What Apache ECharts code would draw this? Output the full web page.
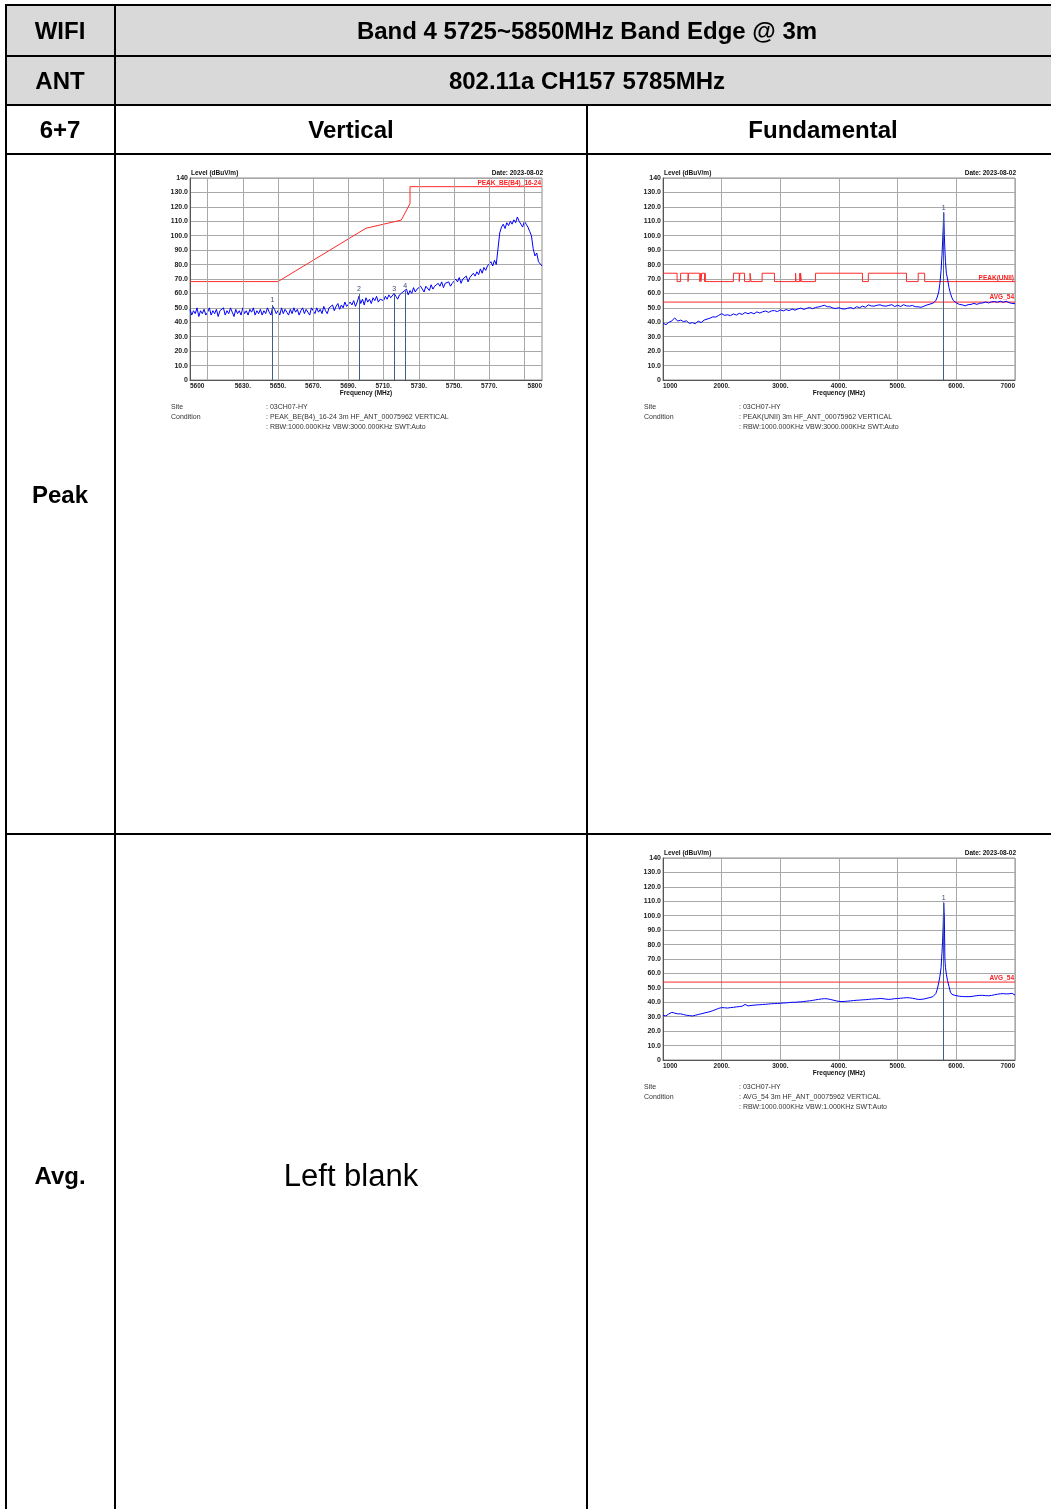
<!DOCTYPE html>
<html>
<head>
<meta charset="utf-8">
<script src="https://cdn.jsdelivr.net/npm/echarts@6.0.0/dist/echarts.min.js"></script>
<style>
html,body{margin:0;padding:0;background:#ffffff;}
#chart{width:1051px;height:1509px;}
</style>
</head>
<body>
<div id="chart"></div>
<script>
// ---------- Band edge chart (Peak, Vertical) ----------
const leFreq = [
5600,5601,5602,5603,5604,5605,5606,5607,5608,5609,
5610,5611,5612,5613,5614,5615,5616,5617,5618,5619,
5620,5621,5622,5623,5624,5625,5626,5627,5628,5629,
5630,5631,5632,5633,5634,5635,5636,5637,5638,5639,
5640,5641,5642,5643,5644,5645,5646,5647,5648,5649,
5650,5651,5652,5653,5654,5655,5656,5657,5658,5659,
5660,5661,5662,5663,5664,5665,5666,5667,5668,5669,
5670,5671,5672,5673,5674,5675,5676,5677,5678,5679,
5680,5681,5682,5683,5684,5685,5686,5687,5688,5689,
5690,5691,5692,5693,5694,5695,5696,5697,5698,5699,
5700,5701,5702,5703,5704,5705,5706,5707,5708,5709,
5710,5711,5712,5713,5714,5715,5716,5717,5718,5719,
5720,5721,5722,5723,5724,5725,5726,5727,5728,5729,
5730,5731,5732,5733,5734,5735,5736,5737,5738,5739,
5740,5741,5742,5743,5744,5745,5746,5747,5748,5749,
5750,5751,5752,5753,5754,5755,5756,5757,5758,5759,
5760,5761,5762,5763,5764,5765,5766,5767,5768,5769,
5770,5771,5772,5773,5774,5775,5776,5777,5778,5779,
5780,5781,5782,5783,5784,5785,5786,5787,5788,5789,
5790,5791,5792,5793,5794,5795,5796,5797,5798,5799,
5800];
const leLevel = [
49,45,48,46,50,44,48,46,49,45,
47,50,45,48,46,49,44,48,47,50,
45,48,46,50,47,44,49,46,48,45,
50,46,48,45,49,47,50,45,48,46,
49,45,48,46,50,47,45,51,49,46,
48,45,50,46,49,47,45,49,46,50,
47,49,45,48,50,46,49,47,45,50,
48,46,50,47,49,46,51,48,46,50,
49,52,48,51,53,49,52,50,54,51,
51,54,52,55,51,54,58,53,56,52,
57,54,56,53,57,55,58,54,56,57,
55,58,56,59,57,56,60,58,56,59,
59,61,62,63,59,62,60,64,61,63,
62,65,63,61,65,64,62,66,63,65,
64,67,65,68,64,67,66,68,65,67,
67,70,68,71,67,70,69,72,68,71,
71,74,72,75,73,77,74,78,76,79,
78,82,79,83,80,81,102,106,108,105,
109,107,110,108,111,109,113,110,108,106,
110,108,106,103,100,91,86,88,82,83,
79];
const leLimitFreq  = [5600, 5650, 5700, 5720, 5725, 5725, 5800];
const leLimitLevel = [68.2, 68.2, 105.2, 110.8, 122.2, 134, 134];
const leMarkerFreq  = [5646.8, 5696, 5716, 5722.3];
const leMarkerLevel = [52, 59.6, 60, 62];
const leTickLabels = [5600, 5630, 5650, 5670, 5690, 5710, 5730, 5750, 5770, 5800];
const leGridFreq   = [5610, 5630, 5650, 5670, 5690, 5710, 5730, 5750, 5770, 5790];

// ---------- Fundamental charts (Peak / Avg) ----------
const fundFreq = [
1000,1050,1100,1150,1200,1250,1300,1350,1400,1450,
1500,1550,1600,1650,1700,1750,1800,1850,1900,1950,
2000,2050,2100,2150,2200,2250,2300,2350,2400,2450,
2500,2550,2600,2650,2700,2750,2800,2850,2900,2950,
3000,3050,3100,3150,3200,3250,3300,3350,3400,3450,
3500,3550,3600,3650,3700,3750,3800,3850,3900,3950,
4000,4050,4100,4150,4200,4250,4300,4350,4400,4450,
4500,4550,4600,4650,4700,4750,4800,4850,4900,4950,
5000,5050,5100,5150,5200,5250,5300,5350,5400,5450,
5500,5550,5600,
5625,5650,5675,5700,5720,5740,5755,5765,5775,5785,5795,5805,5815,5830,5850,5875,5900,5925,5950,5975,6000,
6050,6100,6150,6200,6250,6300,6350,6400,6450,6500,
6550,6600,6650,6700,6750,6800,6850,6900,6950,7000];
const fundPeak = [
39.5,38.3,40,41,43,40.8,41.5,40.5,41,39.2,
39.8,39,40.8,39.8,41.5,42.2,42.8,43.8,43.6,44.8,
46,44.8,45.2,44.6,45.8,45,46.2,45.4,46.8,45.9,
46.8,45.9,47.2,46.4,47.3,47.8,46.9,47.9,48.1,47.4,
48.6,47.9,48.8,48.1,49.2,48.4,49.3,49.8,48.9,49.7,
50.2,49.4,50.3,50.6,51.2,51.8,50.8,50.7,49.8,49.6,
50.1,49.3,49.2,49.8,50.2,49.4,50.8,50.1,51.2,50.4,
52.1,51.3,51.2,51.8,52.1,51.4,51.2,51.7,52.2,50.9,
51.8,50.9,52.2,51.4,51.2,51.7,50.8,50.7,50.4,51.2,
52,52.6,53.2,
54,55,57.5,61,67,76,86,95,104,116,101,90,82,74,70,64,60,57,55,54.5,53.5,
52.4,52.1,51.4,52.2,52.4,53.1,52.4,53.2,53.4,54.1,
53.4,54.2,54.4,53.9,54.6,53.9,54.6,53.6,53.1,52.9];
const fundAvg = [
31,30.5,32,33,32.5,32,32,31.5,31,30.8,
30.5,31,31.5,32,32.5,33,33.5,34.2,35,35.8,
36.3,36.2,36,36.3,36.5,36.8,37,37.3,38.5,37.5,
37.8,38,38.2,38.3,38.5,38.6,38.8,39,39.1,39.2,
39.3,39.5,39.6,39.8,40,40,40.2,40.3,40.5,40.8,
41,41.3,41.7,42,42.3,42.5,42.4,42,41.5,41,
40.6,40.5,40.6,40.8,41,41.2,41.4,41.5,41.7,41.8,
42,42.2,42.3,42.4,42.6,42.5,42.2,42,42.2,42.5,
42.6,42.8,43,43.2,43.1,42.8,42.4,42,42,42.3,
42.8,43.3,43.9,
44.5,46,49,53.5,58,64,74,82,92,109,100,70,64,59.5,55,51,47,45.5,45,44.8,44.5,
44.2,44,43.9,43.9,44,44.3,44.6,44.8,44.8,44.6,
44.5,44.8,45.2,45.6,45.9,46,45.8,45.9,46.2,45];
// PEAK(UNII) limit: value holds from each breakpoint to the next
const uniiFreq = [1000,1240,1300,1427,1435,1626.5,1645.5,1646.5,1660,1710,1718.8,1722.2,
  2200,2300,2310,2390,2483.5,2500,2690,2900,3260,3267,3332,3339,3345.8,3358,
  3600,4400,4500,5150,5350,5460,7000];
const uniiLevel = [74,68.2,74,68.2,74,68.2,74,68.2,74,68.2,74,68.2,
  74,68.2,74,68.2,74,68.2,74,68.2,74,68.2,74,68.2,74,68.2,
  74,68.2,74,68.2,74,68.2,68.2];
const avgLimitFreq  = [1000, 7000];
const avgLimitLevel = [54, 54];
const fundPkMarkerFreq = [5785], fundPkMarkerLevel = [116];
const fundAvMarkerFreq = [5785], fundAvMarkerLevel = [109];

// ---------- styling ----------
const SANS = '"Liberation Sans", Arial, sans-serif';
const GRIDC = '#a9a9a9';
const TRACE = '#0000ff';
const LIMIT = '#ff2a2a';
const MARK = '#3f5f86';

const pairs = (xs, ys) => xs.map((x, i) => [x, ys[i]]);

const grids = [
  {left:190, top:178, width:352, height:202},
  {left:663, top:178, width:352, height:202},
  {left:663, top:858, width:352, height:202}
].map(g => Object.assign(g, {show:true, borderColor:'#8c8c8c', borderWidth:1, backgroundColor:'#ffffff', containLabel:false, outerBoundsMode:'none'}));

function yAxis(i){
  return {type:'value', gridIndex:i, min:0, max:140, interval:10,
    axisLine:{show:true, lineStyle:{color:'#555555', width:1}},
    axisTick:{show:false},
    splitLine:{show:true, lineStyle:{color:GRIDC, width:1}},
    axisLabel:{margin:2, fontSize:7, fontWeight:'bold', fontFamily:SANS, color:'#222222',
      formatter: v => (v === 0 || v === 140) ? String(v) : v.toFixed(1)}};
}
function labelStyle(){
  return {margin:3, fontSize:6.5, fontWeight:'bold', fontFamily:SANS, color:'#222222',
    showMinLabel:true, showMaxLabel:true, alignMinLabel:'left', alignMaxLabel:'right'};
}
const xAxes = [
  {type:'value', gridIndex:0, min:5600, max:5800,
   axisLine:{show:true, lineStyle:{color:'#555555'}}, axisTick:{show:false}, splitLine:{show:false},
   axisLabel:Object.assign(labelStyle(), {customValues:leTickLabels,
     formatter: v => (v === 5600 || v === 5800) ? String(v) : v + '.'})},
  {type:'value', gridIndex:1, min:1000, max:7000, interval:1000,
   axisLine:{show:true, lineStyle:{color:'#555555'}}, axisTick:{show:false},
   splitLine:{show:true, lineStyle:{color:GRIDC, width:1}},
   axisLabel:Object.assign(labelStyle(), {formatter: v => (v === 1000 || v === 7000) ? String(v) : v + '.'})},
  {type:'value', gridIndex:2, min:1000, max:7000, interval:1000,
   axisLine:{show:true, lineStyle:{color:'#555555'}}, axisTick:{show:false},
   splitLine:{show:true, lineStyle:{color:GRIDC, width:1}},
   axisLabel:Object.assign(labelStyle(), {formatter: v => (v === 1000 || v === 7000) ? String(v) : v + '.'})}
];

function lineSeries(ax, data, color, extra){
  return Object.assign({type:'line', xAxisIndex:ax, yAxisIndex:ax, data:data, symbol:'none', showSymbol:false,
    lineStyle:{color:color, width:1}, itemStyle:{color:color}, silent:true, z:3}, extra || {});
}
function markerSeries(ax, fs, vs){
  return {type:'line', xAxisIndex:ax, yAxisIndex:ax, data:[], symbol:'none', silent:true, z:4,
    markLine:{silent:true, symbol:['none','none'], animation:false,
      lineStyle:{color:MARK, width:1, type:'solid'},
      label:{show:true, position:'start', formatter:'{b}', fontSize:7, fontFamily:SANS, color:'#3a4a78', distance:1},
      data: fs.map((f, i) => [{name:String(i + 1), coord:[f, vs[i]]}, {coord:[f, 0]}])}};
}

const series = [
  // vertical grid lines of the band-edge chart
  {type:'line', xAxisIndex:0, yAxisIndex:0, data:[], symbol:'none', silent:true, z:1,
   markLine:{silent:true, symbol:['none','none'], animation:false, label:{show:false},
     lineStyle:{color:GRIDC, width:1, type:'solid'},
     data: leGridFreq.map(f => ({xAxis:f}))}},
  lineSeries(0, pairs(leLimitFreq, leLimitLevel), LIMIT),
  lineSeries(0, pairs(leFreq, leLevel), TRACE),
  markerSeries(0, leMarkerFreq, leMarkerLevel),

  lineSeries(1, pairs(uniiFreq, uniiLevel), LIMIT, {step:'end'}),
  lineSeries(1, pairs(avgLimitFreq, avgLimitLevel), LIMIT),
  lineSeries(1, pairs(fundFreq, fundPeak), TRACE),
  markerSeries(1, fundPkMarkerFreq, fundPkMarkerLevel),

  lineSeries(2, pairs(avgLimitFreq, avgLimitLevel), LIMIT),
  lineSeries(2, pairs(fundFreq, fundAvg), TRACE),
  markerSeries(2, fundAvMarkerFreq, fundAvMarkerLevel)
];

// ---------- table and texts ----------
const G = [];
function txt(x, y, s, font, fill, align){
  G.push({type:'text', x:x, y:y, silent:true, z:100,
    style:{text:s, font:font, fill:fill || '#000000', textAlign:align || 'center', textVerticalAlign:'middle'}});
}
function ln(x1, y1, x2, y2, w){
  G.push({type:'line', silent:true, z:100, shape:{x1:x1, y1:y1, x2:x2, y2:y2}, style:{stroke:'#000000', lineWidth:w || 2}});
}
G.push({type:'rect', silent:true, z:0, shape:{x:6, y:6, width:1045, height:99}, style:{fill:'#d9d9d9'}});
ln(5, 5, 1051, 5); ln(5, 56, 1051, 56); ln(5, 105, 1051, 105); ln(5, 154, 1051, 154); ln(5, 834, 1051, 834);
ln(6, 5, 6, 1509); ln(115, 5, 115, 1509); ln(587, 105, 587, 1509);

const HB = 'bold 24px ' + SANS;
txt(60, 32.5, 'WIFI', HB);
txt(587, 32.5, 'Band 4 5725~5850MHz Band Edge @ 3m', HB);
txt(60, 82, 'ANT', HB);
txt(587, 82, '802.11a CH157 5785MHz', HB);
txt(60, 131, '6+7', HB);
txt(351, 131, 'Vertical', HB);
txt(823, 131, 'Fundamental', HB);
txt(60, 496, 'Peak', HB);
txt(60, 1177.5, 'Avg.', HB);
txt(351, 1177.5, 'Left blank', '31px ' + SANS);

const SB = 'bold 6.5px ' + SANS;
const SR = '7px ' + SANS;
function chartTexts(g, cond, rbw, limitLabels){
  const L = g.left, T = g.top, R = g.left + g.width, B = g.top + g.height;
  txt(L + 1, T - 4.5, 'Level (dBuV/m)', SB, '#111111', 'left');
  txt(R + 1, T - 5, 'Date: 2023-08-02', SB, '#111111', 'right');
  txt((L + R) / 2, B + 13, 'Frequency (MHz)', SB, '#111111', 'center');
  const sx = L - 19, vx = L + 76;
  txt(sx, B + 27.5, 'Site', SR, '#333333', 'left');
  txt(sx, B + 37.5, 'Condition', SR, '#333333', 'left');
  txt(vx, B + 27.5, ': 03CH07-HY', SR, '#333333', 'left');
  txt(vx, B + 37.5, cond, SR, '#333333', 'left');
  txt(vx, B + 47.5, rbw, SR, '#333333', 'left');
  limitLabels.forEach(l => txt(R - 1, T + l[1], l[0], SB, '#ff2020', 'right'));
}
chartTexts(grids[0], ': PEAK_BE(B4)_16-24 3m HF_ANT_00075962 VERTICAL', ': RBW:1000.000KHz VBW:3000.000KHz SWT:Auto',
  [['PEAK_BE(B4)_16-24', 5]]);
chartTexts(grids[1], ': PEAK(UNII) 3m HF_ANT_00075962 VERTICAL', ': RBW:1000.000KHz VBW:3000.000KHz SWT:Auto',
  [['PEAK(UNII)', 100], ['AVG_54', 119.5]]);
chartTexts(grids[2], ': AVG_54 3m HF_ANT_00075962 VERTICAL', ': RBW:1000.000KHz VBW:1.000KHz SWT:Auto',
  [['AVG_54', 120]]);

const option = {
  animation:false,
  backgroundColor:'#ffffff',
  grid:grids,
  xAxis:xAxes,
  yAxis:[yAxis(0), yAxis(1), yAxis(2)],
  series:series,
  graphic:{elements:G}
};
const chart = echarts.init(document.getElementById('chart'), null, {renderer:'canvas'});
chart.setOption(option);
</script>
</body>
</html>
